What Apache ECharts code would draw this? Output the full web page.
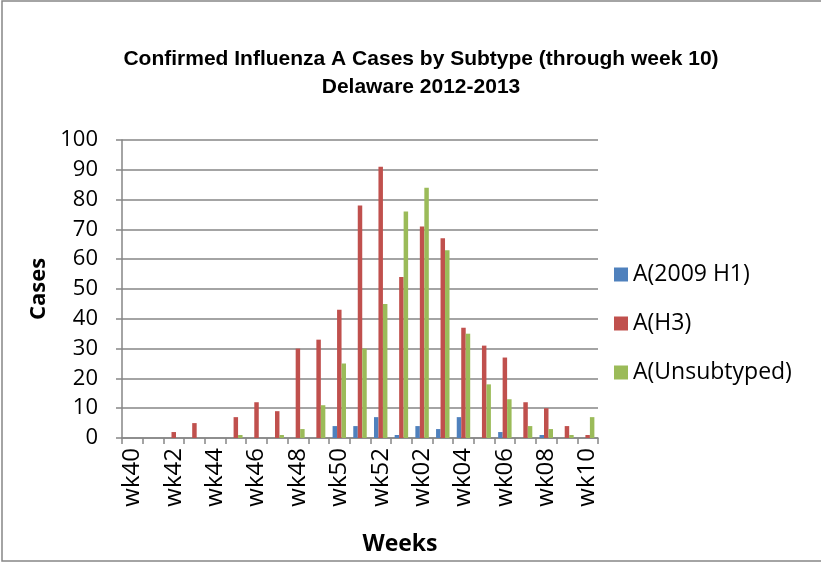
<!DOCTYPE html>
<html>
<head>
<meta charset="utf-8">
<script src="https://cdn.jsdelivr.net/npm/echarts@6/dist/echarts.min.js"></script>
<style>
  html, body { margin: 0; padding: 0; background: #fff; }
  #chart { width: 821px; height: 563px; }
</style>
</head>
<body>
<div id="chart"></div>
<script>
var weeks = ['wk40', 'wk41', 'wk42', 'wk43', 'wk44', 'wk45', 'wk46', 'wk47', 'wk48', 'wk49', 'wk50', 'wk51', 'wk52',
    'wk01', 'wk02', 'wk03', 'wk04', 'wk05', 'wk06', 'wk07', 'wk08', 'wk09', 'wk10'];
var h1_2009 = [0, 0, 0, 0, 0, 0, 0, 0, 0, 0, 4, 4, 7, 1, 4, 3, 7, 0, 2, 0, 1, 0, 0];
var h3 = [0, 0, 2, 5, 0, 7, 12, 9, 30, 33, 43, 78, 91, 54, 71, 67, 37, 31, 27, 12, 10, 4, 1];
var unsubtyped = [0, 0, 0, 0, 0, 1, 0, 1, 3, 11, 25, 30, 45, 76, 84, 63, 35, 18, 13, 4, 3, 1, 7];
var seriesNames = ['A(2009 H1)', 'A(H3)', 'A(Unsubtyped)'];
var colors = ['#4F81BD', '#C0504D', '#9BBB59'];

var font = '"Open Sans", sans-serif';
var gray = '#868686';

var init_barChart = function () {
    var myChart = echarts.init(document.getElementById('chart'));
    var dataSets = [h1_2009, h3, unsubtyped];
    var series = dataSets.map(function (d, i) {
        return {
            name: seriesNames[i],
            type: 'bar',
            data: d,
            barGap: '0%',
            barCategoryGap: '35%',
            itemStyle: { color: colors[i] }
        };
    });

    var option = {
        animation: false,
        backgroundColor: '#fff',
        title: {
            text: 'Confirmed Influenza A Cases by Subtype (through week 10)\nDelaware 2012-2013',
            left: 416,
            top: 40,
            textAlign: 'center',
            textStyle: {
                fontFamily: '"Liberation Sans", Arial, sans-serif',
                fontWeight: 'bold',
                fontSize: 21,
                lineHeight: 28,
                color: '#000'
            }
        },
        legend: {
            orient: 'vertical',
            left: 609,
            top: 258,
            itemWidth: 14,
            itemHeight: 14,
            itemGap: 26,
            icon: 'rect',
            data: seriesNames,
            textStyle: { fontFamily: font, fontSize: 23, color: '#000' }
        },
        grid: { left: 122, right: 223, top: 140, bottom: 125 },
        xAxis: {
            type: 'category',
            data: weeks,
            name: 'Weeks',
            nameLocation: 'middle',
            nameGap: 95,
            nameTextStyle: { fontFamily: font, fontWeight: 'bold', fontSize: 23, color: '#000', padding: [0, 0, 0, 80] },
            axisLine: { lineStyle: { color: gray, width: 1.5 } },
            axisTick: { show: true, interval: 0, length: 6, lineStyle: { color: gray, width: 1.5 } },
            axisLabel: { interval: 1, rotate: 90, margin: 10, fontFamily: font, fontSize: 24, color: '#000' }
        },
        yAxis: {
            type: 'value',
            min: 0,
            max: 100,
            interval: 10,
            name: 'Cases',
            nameLocation: 'middle',
            nameGap: 66,
            nameTextStyle: { fontFamily: font, fontWeight: 'bold', fontSize: 22, color: '#000' },
            axisLine: { show: true, lineStyle: { color: gray, width: 1.5 } },
            axisTick: { show: true, length: 6, lineStyle: { color: gray, width: 1.5 } },
            axisLabel: { margin: 24, fontFamily: font, fontSize: 22, color: '#000' },
            splitLine: { lineStyle: { color: gray, width: 1.5 } }
        },
        graphic: [{
            type: 'rect',
            shape: { x: 2, y: 1, width: 830, height: 560 },
            style: { fill: 'none', stroke: gray, lineWidth: 1.5 },
            silent: true
        }],
        series: series
    };
    myChart.setOption(option);
};

init_barChart();
</script>
</body>
</html>
